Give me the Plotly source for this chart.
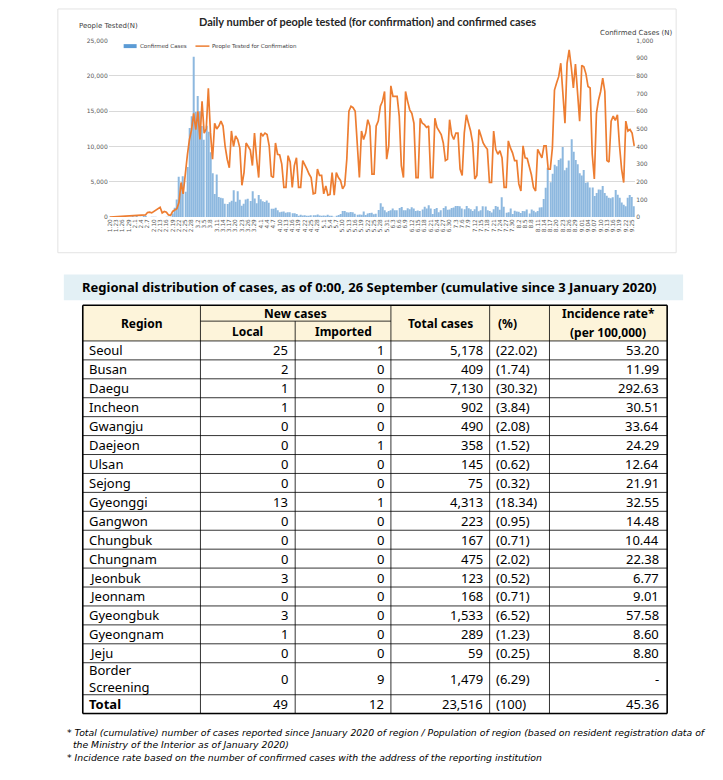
import datetime
import plotly.graph_objects as go

W, H = 723, 780

# ---------------- chart data ----------------
start_date = datetime.date(2020, 1, 20)
n_days = 251
dates = [start_date + datetime.timedelta(days=i) for i in range(n_days)]
day_labels = [(f"{d.month}.{d.day:02d}" if d.month == 9 else f"{d.month}.{d.day}") for d in dates]
tick_labels = day_labels[::3]

confirmed_jan = [1, 0, 0, 0, 1, 0, 1, 1, 0, 0, 2, 5]
confirmed_feb = [1, 3, 0, 1, 3, 4, 0, 0, 2, 2, 1, 0, 0, 0, 0, 1, 1, 1, 20, 53,
                 100, 229, 169, 231, 144, 284, 505, 571, 909]
confirmed_mar = [595, 686, 600, 516, 438, 518, 483, 367, 248, 131, 242, 114, 110, 107, 76, 74,
                 84, 93, 152, 87, 147, 98, 64, 76, 100, 104, 91, 146, 105, 78, 125]
confirmed_apr = [101, 89, 86, 94, 81, 47, 47, 53, 39, 27, 30, 32, 25, 27, 27, 22, 22, 18, 8, 13,
                 9, 11, 8, 6, 10, 10, 10, 14, 9, 4]
confirmed_may = [9, 6, 13, 8, 3, 2, 4, 12, 18, 34, 35, 27, 26, 29, 27, 19, 13, 15, 13, 32, 12, 20,
                 23, 25, 16, 19, 40, 79, 58, 39, 27]
confirmed_jun = [35, 38, 49, 39, 39, 51, 57, 38, 38, 50, 45, 56, 49, 34, 37, 34, 43, 59, 49, 67,
                 48, 17, 46, 51, 28, 39, 51, 62, 42, 43]
confirmed_jul = [51, 54, 63, 63, 61, 48, 44, 63, 50, 45, 35, 44, 62, 33, 39, 61, 60, 39, 34, 26,
                 45, 63, 59, 41, 113, 58, 25, 28, 48, 18, 36]
confirmed_aug = [31, 30, 23, 34, 33, 43, 20, 43, 36, 28, 34, 54, 56, 103, 166, 279, 197, 246, 297,
                 288, 324, 332, 397, 266, 280, 320, 441, 371, 323, 299, 248]
confirmed_sep = [235, 267, 195, 198, 168, 167, 119, 136, 156, 155, 176, 136, 121, 109, 106, 113,
                 153, 126, 110, 82, 70, 61, 110, 125, 114, 61]

tested_jan = [0, 20, 30, 40, 50, 50, 60, 80, 100, 110, 120, 150]
tested_feb = [180, 200, 220, 200, 250, 300, 650, 700, 600, 800, 1000, 1200, 1400, 600, 800, 700,
              300, 250, 800, 1000, 1200, 2100, 4900, 3300, 6300, 8800, 11000, 12400, 14700]
tested_mar = [12400, 15000, 11000, 16400, 11900, 12500, 18250, 12000, 8200, 13300,
              12500, 12900, 13600, 12900, 10000, 8200, 7000, 12200, 10000, 11500,
              11000, 9800, 4500, 6300, 10500, 10000, 9500, 7300, 11900, 8300, 5600]
tested_apr = [11900, 11500, 11900, 11700, 10100, 5800, 5600, 10500, 8900, 8800,
              7500, 4200, 4200, 8700, 7800, 4200, 7300, 8400, 4200, 4200,
              8000, 7500, 6800, 6100, 5600, 3300, 3400, 6800, 5900, 5900]
tested_may = [3300, 4400, 3100, 3200, 6300, 3100, 6300, 5600, 5200, 4000,
              4500, 8200, 15000, 15700, 15500, 15000, 10500, 5600, 12200, 11000,
              11900, 13800, 12900, 6100, 6100, 12900, 13600, 15700, 16400, 17800, 8200]
tested_jun = [10100, 18600, 17100, 17100, 17100, 14300, 7300, 5600, 17800, 16400,
              15200, 14700, 13300, 5600, 5600, 14000, 13300, 13100, 12700, 12900,
              5600, 5600, 14000, 12700, 12200, 11700, 10500, 8000, 8200, 13800]
tested_jul = [11700, 11000, 11900, 11900, 6800, 5900, 11900, 14500, 13300, 12200,
              10500, 5400, 5900, 12400, 11500, 10500, 10000, 9600, 4900, 4900,
              12200, 9600, 8900, 9400, 8400, 4200, 4200, 10800, 9800, 9100, 8000]
tested_aug = [8000, 4700, 3700, 10100, 8400, 8300, 7300, 6000, 4200, 3700,
              9600, 9100, 8400, 10100, 10100, 6800, 6800, 9800, 18000, 19000,
              19900, 21800, 17600, 13300, 21800, 23700, 21300, 18300, 21700, 17100, 13600]
tested_sep = [21500, 21300, 20300, 18500, 18300, 8900, 5400, 14700, 16600, 17800,
              19700, 17800, 8000, 7800, 13600, 14300, 13700, 14500, 10100, 6800,
              4900, 13600, 12200, 12400, 11900, 10100]

confirmed = (confirmed_jan + confirmed_feb + confirmed_mar + confirmed_apr + confirmed_may +
             confirmed_jun + confirmed_jul + confirmed_aug + confirmed_sep)
tested = (tested_jan + tested_feb + tested_mar + tested_apr + tested_may +
          tested_jun + tested_jul + tested_aug + tested_sep)

left_ticks = [0, 5000, 10000, 15000, 20000, 25000]
right_ticks = list(range(0, 1001, 100))

# ---------------- table data ----------------
regions = ["Seoul", "Busan", "Daegu", "Incheon", "Gwangju", "Daejeon", "Ulsan", "Sejong",
           "Gyeonggi", "Gangwon", "Chungbuk", "Chungnam", "Jeonbuk", "Jeonnam", "Gyeongbuk",
           "Gyeongnam", "Jeju", "Border<br>Screening", "Total"]
local_new = ["25", "2", "1", "1", "0", "0", "0", "0", "13", "0", "0", "0", "3", "0", "3", "1", "0", "0", "49"]
imported_new = ["1", "0", "0", "0", "0", "1", "0", "0", "1", "0", "0", "0", "0", "0", "0", "0", "0", "9", "12"]
total_cases = ["5,178", "409", "7,130", "902", "490", "358", "145", "75", "4,313", "223", "167",
               "475", "123", "168", "1,533", "289", "59", "1,479", "23,516"]
pct = ["(22.02)", "(1.74)", "(30.32)", "(3.84)", "(2.08)", "(1.52)", "(0.62)", "(0.32)", "(18.34)",
       "(0.95)", "(0.71)", "(2.02)", "(0.52)", "(0.71)", "(6.52)", "(1.23)", "(0.25)", "(6.29)", "(100)"]
incidence = ["53.20", "11.99", "292.63", "30.51", "33.64", "24.29", "12.64", "21.91", "32.55",
             "14.48", "10.44", "22.38", "6.77", "9.01", "57.58", "8.60", "8.80", "-", "45.36"]

footnote_1 = ("* Total (cumulative) number of cases reported since January 2020 of region / Population of region "
              "(based on resident registration data of<br>  the Ministry of the Interior as of January 2020)")
footnote_2 = "* Incidence rate based on the number of confirmed cases with the address of the reporting institution"


def px(x):
    return x / W


def py(y):
    return 1 - y / H


fig = go.Figure()
fig.add_trace(go.Bar(x=day_labels, y=confirmed, name="Confirmed Cases",
                     marker=dict(color="#8db8df", line=dict(width=0)), yaxis="y"))
fig.add_trace(go.Scatter(x=day_labels, y=tested, name="People Tested for Confirmation",
                         mode="lines", line=dict(color="#ed7d31", width=1.7), yaxis="y2"))

tickfont = dict(family="DejaVu Sans", size=6, color="#595959")
fig.update_layout(
    width=W, height=H, autosize=False,
    margin=dict(l=0, r=0, t=0, b=0),
    paper_bgcolor="white", plot_bgcolor="white",
    showlegend=False, bargap=0.5,
    xaxis=dict(domain=[px(107), px(635)], type="category", range=[-0.5, n_days - 0.5],
               tickmode="array", tickvals=tick_labels, ticktext=tick_labels,
               tickangle=-90, tickfont=dict(family="DejaVu Sans", size=5.8, color="#595959"),
               showgrid=False, showline=False, ticks=""),
    yaxis=dict(domain=[py(215), py(37)], side="right", range=[0, 1000],
               tickmode="array", tickvals=right_ticks,
               ticktext=[f"{v:,}" for v in right_ticks], tickfont=tickfont,
               showgrid=False, zeroline=False, showline=False),
    yaxis2=dict(domain=[py(215), py(37)], side="left", overlaying="y", anchor="x",
                range=[0, 25000], tickmode="array", tickvals=left_ticks,
                ticktext=[f"{v:,}" for v in left_ticks], tickfont=tickfont,
                showgrid=True, gridcolor="#d9d9d9", gridwidth=0.8, zeroline=False, showline=False),
)

shapes = []
ann = []

# chart frame
shapes.append(dict(type="rect", xref="paper", yref="paper", x0=px(56), x1=px(676), y0=py(251), y1=py(5),
                   line=dict(color="#e3e3e3", width=1), layer="below"))
ann.append(dict(text="<b>Daily number of people tested (for confirmation) and confirmed cases</b>",
                x=px(367), y=py(18), xref="paper", yref="paper", showarrow=False,
                font=dict(family="Lato", size=11, color="#262626"), xanchor="center", yanchor="middle"))
ann.append(dict(text="People Tested(N)", x=px(75), y=py(22), xref="paper", yref="paper", showarrow=False,
                font=dict(family="DejaVu Sans", size=7, color="#404040"), xanchor="left", yanchor="middle"))
ann.append(dict(text="Confirmed Cases (N)", x=px(675), y=py(29), xref="paper", yref="paper", showarrow=False,
                font=dict(family="DejaVu Sans", size=7, color="#404040"), xanchor="right", yanchor="middle"))
# legend
shapes.append(dict(type="rect", xref="paper", yref="paper", x0=px(122), x1=px(135), y0=py(44.5), y1=py(40.5),
                   fillcolor="#5b9bd5", line=dict(width=0)))
ann.append(dict(text="Confirmed Cases", x=px(136), y=py(42.5), xref="paper", yref="paper", showarrow=False,
                font=dict(family="DejaVu Sans", size=5.5, color="#404040"), xanchor="left", yanchor="middle"))
shapes.append(dict(type="line", xref="paper", yref="paper", x0=px(194), x1=px(208), y0=py(42.5), y1=py(42.5),
                   line=dict(color="#ed7d31", width=1.5)))
ann.append(dict(text="People Tested for Confirmation", x=px(209), y=py(42.5), xref="paper", yref="paper",
                showarrow=False, font=dict(family="DejaVu Sans", size=5.5, color="#404040"),
                xanchor="left", yanchor="middle"))

# ---------------- table ----------------
TF = "Noto Sans"
shapes.append(dict(type="rect", xref="paper", yref="paper", x0=px(62), x1=px(683), y0=py(299), y1=py(273),
                   fillcolor="#e3f0f5", line=dict(width=0), layer="below"))
ann.append(dict(text="<b>Regional distribution of cases, as of 0:00, 26 September (cumulative since 3 January 2020)</b>",
                x=px(78), y=py(286), xref="paper", yref="paper", showarrow=False,
                font=dict(family=TF, size=13, color="black"), xanchor="left", yanchor="middle"))

cols = [81, 199, 294, 390, 489, 549, 667]
head_top, head_mid, head_bot = 304, 320, 340
row_h = 19.1
row_edges = [head_bot + i * row_h for i in range(18)]
row_edges.append(697)
row_edges.append(716)

shapes.append(dict(type="rect", xref="paper", yref="paper", x0=px(cols[0]), x1=px(cols[-1]),
                   y0=py(head_bot), y1=py(head_top), fillcolor="#fdf4da", line=dict(width=0), layer="below"))


def hline(y, x0, x1, w=0.8):
    shapes.append(dict(type="line", xref="paper", yref="paper", x0=px(x0), x1=px(x1), y0=py(y), y1=py(y),
                       line=dict(color="black", width=w)))


def vline(x, y0, y1, w=0.8):
    shapes.append(dict(type="line", xref="paper", yref="paper", x0=px(x), x1=px(x), y0=py(y0), y1=py(y1),
                       line=dict(color="black", width=w)))


hline(head_mid, cols[1], cols[3])
for e in row_edges:
    hline(e, cols[0], cols[-1])
for i, c in enumerate(cols):
    if i in (0, len(cols) - 1):
        continue
    vline(c, head_mid if i == 2 else head_top, row_edges[-1])
# outer border
hline(head_top, cols[0], cols[-1], 1.6)
hline(row_edges[-1], cols[0], cols[-1], 1.6)
vline(cols[0], head_top, row_edges[-1], 1.6)
vline(cols[-1], head_top, row_edges[-1], 1.6)


def text(t, x, y, anchor, size=13, bold=False, italic=False, family=TF, yanchor="middle"):
    s = t
    if bold:
        s = f"<b>{s}</b>"
    if italic:
        s = f"<i>{s}</i>"
    ann.append(dict(text=s, x=px(x), y=py(y), xref="paper", yref="paper", showarrow=False,
                    font=dict(family=family, size=size, color="black"), xanchor=anchor, yanchor=yanchor,
                    align="left"))


hs = 12
text("Region", (cols[0] + cols[1]) / 2, 322, "center", hs, True)
text("New cases", (cols[1] + cols[3]) / 2, 312, "center", hs, True)
text("Local", (cols[1] + cols[2]) / 2, 330, "center", hs, True)
text("Imported", (cols[2] + cols[3]) / 2, 330, "center", hs, True)
text("Total cases", (cols[3] + cols[4]) / 2, 322, "center", hs, True)
text("(%)", cols[4] + 6, 322, "left", hs, True)
text("Incidence rate*", (cols[5] + cols[6]) / 2, 312, "center", hs, True)
text("(per 100,000)", (cols[5] + cols[6]) / 2, 331, "center", hs, True)

for i in range(len(regions)):
    yc = (row_edges[i] + row_edges[i + 1]) / 2
    is_total = regions[i] == "Total"
    text(regions[i], cols[0] + 4, yc, "left", 13, is_total)
    text(local_new[i], cols[2] - 5, yc, "right")
    text(imported_new[i], cols[3] - 5, yc, "right")
    text(total_cases[i], cols[4] - 5, yc, "right")
    text(pct[i], cols[4] + 4, yc, "left")
    text(incidence[i], cols[6] - 6, yc, "right")

fn = 9.3
text(footnote_1, 63, 728, "left", fn, italic=True, family="DejaVu Sans", yanchor="top")
text(footnote_2, 63, 760, "left", fn, italic=True, family="DejaVu Sans")

fig.update_layout(shapes=shapes, annotations=ann)
fig.write_html("out.html", config={"displayModeBar": False},
               post_script="document.body.style.margin='0';document.body.style.overflow='hidden';")
